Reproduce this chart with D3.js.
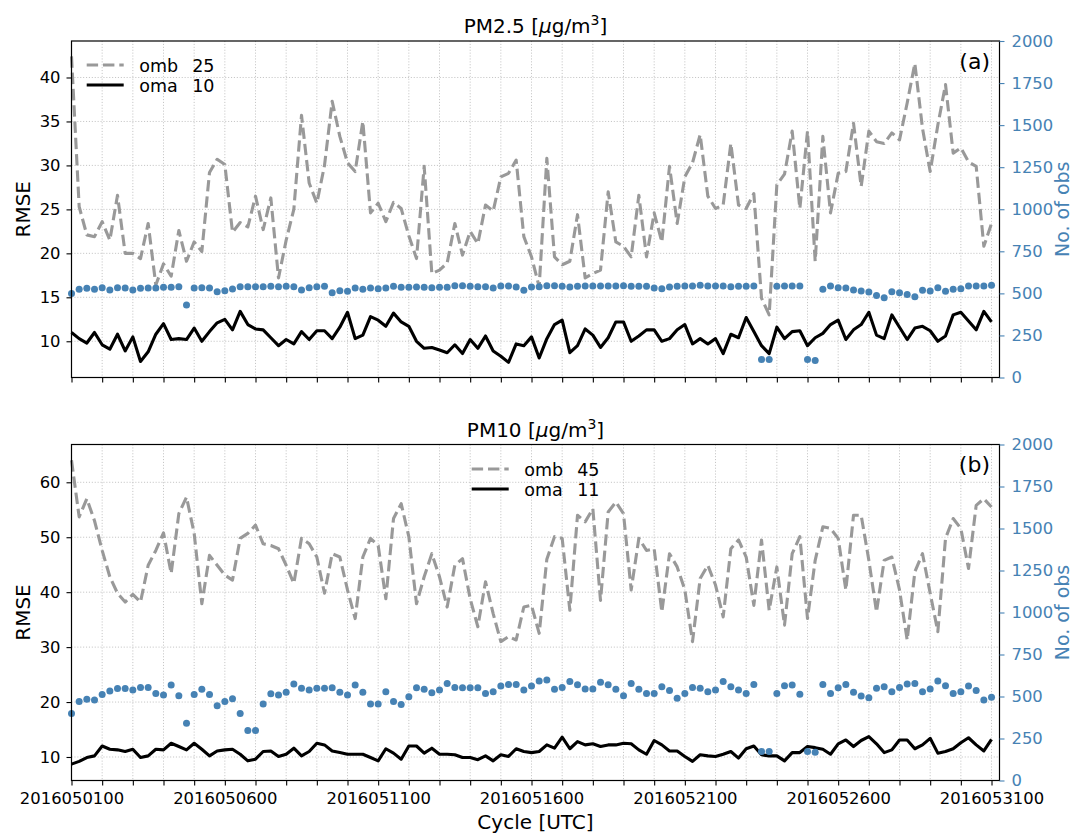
<!DOCTYPE html>
<html>
<head>
<meta charset="utf-8">
<script src="https://cdn.jsdelivr.net/npm/d3@7"></script>
<style>
  body { margin: 0; background: #fff; }
  svg { display: block; font-family: "DejaVu Sans", sans-serif; }
</style>
</head>
<body>
<script>
// cycles: 6-hourly from 2016050100 to 2016053100
var startCycle = new Date(Date.UTC(2016, 4, 1, 0));
var cycles = d3.utcHour.every(6).range(startCycle, new Date(Date.UTC(2016, 4, 31, 1)));
var tickLabels = ["2016050100", "2016050600", "2016051100", "2016051600", "2016052100", "2016052600", "2016053100"];

// PM2.5
var pm25Omb = [42.4, 25.3, 22.1, 21.9, 23.6, 21.5, 26.6, 20.0, 20.0, 19.4, 23.4, 16.4, 18.8, 17.4, 22.6, 19.1, 21.3, 20.2, 29.2, 30.7,
  30.1, 22.4, 23.5, 23.0, 26.5, 22.7, 26.3, 17.2, 21.5, 25.0, 35.7, 28.0, 25.7, 30.0, 37.3, 33.3, 30.3, 29.3, 35.0, 24.6,
  25.7, 23.6, 25.8, 25.1, 22.0, 19.4, 29.9, 17.7, 18.1, 18.9, 23.4, 19.8, 22.5, 21.1, 25.5, 24.8, 28.7, 29.1, 30.6, 21.9,
  19.6, 16.2, 30.8, 19.6, 18.7, 19.1, 24.4, 17.2, 17.7, 18.1, 27.0, 21.3, 20.8, 19.6, 26.6, 19.6, 24.6, 21.3, 29.9, 23.4,
  28.7, 30.3, 33.5, 26.5, 25.1, 25.5, 32.5, 25.5, 25.1, 26.8, 14.9, 13.0, 27.8, 29.0, 33.9, 25.1, 33.9, 19.1, 33.3, 24.6,
  29.1, 29.3, 34.8, 27.6, 33.9, 32.7, 32.5, 33.7, 32.9, 37.1, 41.6, 34.2, 29.3, 34.6, 39.2, 31.4, 32.0, 30.4, 29.9, 20.8,
  23.4];
var pm25Oma = [11.0, 10.3, 9.8, 11.0, 9.6, 9.1, 10.8, 8.9, 10.5, 7.7, 8.8, 10.8, 12.0, 10.2, 10.3, 10.2, 11.5, 10.0, 11.1, 12.1,
  12.5, 11.3, 13.4, 11.9, 11.4, 11.3, 10.4, 9.5, 10.2, 9.7, 11.1, 10.2, 11.2, 11.2, 10.3, 11.6, 13.3, 10.3, 10.7, 12.8,
  12.4, 11.7, 13.2, 12.2, 11.7, 10.0, 9.2, 9.3, 9.0, 8.7, 9.6, 8.6, 10.2, 9.2, 10.6, 8.9, 8.3, 7.6, 9.7, 9.5,
  10.5, 8.1, 10.3, 11.9, 12.4, 8.7, 9.5, 11.4, 10.7, 9.3, 10.4, 12.2, 12.2, 10.0, 10.6, 11.3, 11.3, 10.0, 10.3, 11.3,
  11.9, 9.7, 10.3, 9.7, 10.3, 8.6, 10.8, 10.4, 12.7, 11.1, 9.5, 8.6, 11.6, 10.3, 11.1, 11.2, 9.5, 10.4, 10.9, 11.9,
  12.4, 10.2, 11.3, 11.9, 13.3, 10.7, 10.3, 13.0, 11.6, 10.2, 11.5, 11.7, 11.2, 10.0, 10.6, 13.0, 13.3, 12.3, 11.3, 13.4,
  12.2];
var pm25Nobs = [500, 524, 530, 524, 534, 520, 534, 532, 520, 530, 532, 532, 536, 536, 540, 431, 532, 534, 532, 510,
  516, 526, 540, 540, 540, 540, 542, 540, 542, 540, 520, 534, 540, 542, 504, 516, 512, 532, 524, 532,
  528, 532, 542, 536, 536, 538, 536, 534, 536, 536, 546, 546, 542, 540, 540, 532, 544, 544, 538, 518,
  538, 540, 546, 546, 542, 538, 542, 544, 544, 544, 544, 544, 546, 542, 542, 542, 532, 528, 538, 542,
  544, 544, 548, 544, 544, 544, 540, 542, 542, 544, 107, 107, 542, 544, 544, 544, 107, 101, 524, 544,
  534, 532, 520, 514, 508, 488, 474, 510, 504, 494, 480, 518, 514, 534, 512, 524, 528, 544, 544, 544,
  548];

// PM10
var pm10Omb = [64.0, 53.7, 57.0, 53.0, 47.6, 42.8, 39.8, 38.2, 39.6, 38.2, 44.9, 47.6, 50.8, 43.4, 54.3, 57.3, 50.7, 37.9, 46.7, 44.9,
  43.1, 42.2, 49.8, 50.7, 52.2, 48.8, 48.5, 47.9, 44.9, 41.6, 49.8, 48.8, 46.4, 39.8, 47.0, 46.4, 40.4, 35.2, 46.4, 49.8,
  48.5, 38.8, 53.4, 56.1, 50.1, 37.9, 42.8, 47.0, 42.8, 37.3, 44.9, 46.1, 38.8, 33.7, 41.9, 36.1, 31.0, 31.9, 31.3, 37.3,
  37.6, 32.5, 46.0, 50.1, 49.8, 36.7, 54.0, 52.8, 55.2, 38.5, 54.6, 56.4, 54.3, 40.4, 49.8, 47.6, 47.9, 36.4, 47.0, 44.6,
  40.4, 31.0, 42.5, 44.9, 41.3, 35.5, 47.9, 49.5, 46.4, 37.6, 49.5, 36.7, 44.6, 34.0, 47.0, 50.1, 35.2, 45.8, 51.9, 51.6,
  49.8, 40.4, 54.0, 54.0, 45.8, 36.4, 45.8, 46.4, 40.4, 31.3, 43.7, 47.0, 39.8, 32.8, 49.8, 53.4, 51.6, 44.3, 55.8, 57.0,
  55.5];
var pm10Oma = [8.7, 9.2, 9.9, 10.2, 12.0, 11.4, 11.3, 11.0, 11.4, 9.9, 10.2, 11.4, 11.3, 12.5, 11.9, 11.3, 12.5, 11.4, 10.2, 11.1,
  11.3, 11.4, 10.5, 9.3, 9.6, 11.0, 11.1, 10.1, 10.5, 11.6, 10.2, 11.0, 12.5, 12.2, 11.1, 10.8, 10.5, 10.5, 10.5, 9.9,
  9.3, 11.5, 10.7, 9.6, 12.0, 12.0, 10.7, 11.6, 10.5, 10.5, 10.4, 9.9, 9.9, 9.5, 10.2, 9.3, 10.4, 10.1, 11.5, 11.0,
  10.8, 11.0, 12.2, 11.6, 13.6, 11.5, 12.8, 12.2, 12.4, 11.9, 12.2, 12.2, 12.5, 12.4, 11.3, 10.5, 13.0, 12.2, 11.1, 11.1,
  10.1, 9.2, 10.4, 10.2, 10.1, 10.5, 11.0, 9.8, 11.5, 12.0, 10.4, 10.2, 10.2, 9.3, 10.8, 10.8, 11.9, 11.7, 11.4, 10.5,
  12.4, 13.1, 11.9, 13.0, 13.7, 12.4, 10.8, 11.3, 13.1, 13.1, 11.5, 12.2, 13.4, 10.7, 11.0, 11.5, 12.6, 13.5, 12.2, 11.1,
  13.2];
var pm10Nobs = [399, 470, 483, 479, 512, 533, 547, 547, 539, 554, 554, 518, 509, 568, 505, 341, 512, 543, 512, 445,
  470, 487, 399, 297, 297, 455, 516, 509, 525, 574, 549, 539, 549, 549, 552, 525, 509, 568, 525, 455,
  455, 529, 470, 453, 499, 552, 543, 523, 539, 578, 554, 552, 552, 552, 518, 529, 562, 572, 572, 539,
  562, 592, 598, 543, 554, 589, 570, 545, 545, 585, 570, 543, 505, 578, 543, 518, 518, 558, 535, 489,
  518, 554, 549, 529, 539, 589, 558, 539, 518, 572, 172, 172, 518, 564, 568, 514, 172, 168, 572, 518,
  552, 572, 525, 503, 493, 549, 558, 529, 554, 574, 578, 529, 545, 592, 564, 518, 529, 562, 535, 479,
  495];

var legendMeans = [[25, 10], [45, 11]];

var width = 1075, height = 833;
var plotLeft = 71.5, plotRight = 999.5;
var grey = "#999999", blue = "#4682b4";
var lineW = 3.1, dash = "11.4,4.9";

var svg = d3.select("body").append("svg")
    .attr("width", width)
    .attr("height", height);

var xScale = d3.scaleUtc()
    .domain([startCycle, new Date(Date.UTC(2016, 4, 31, 6, 15))])
    .range([plotLeft, plotRight]);

var dayTicks = d3.utcDay.range(startCycle, new Date(Date.UTC(2016, 4, 31, 1)));
var fmt = d3.utcFormat("%Y%m%d%H");

var panels = [
  { name: "PM2.5", omb: pm25Omb, oma: pm25Oma, nobs: pm25Nobs, means: legendMeans[0],
    top: 41, bottom: 377.5, ydom: [5.88, 44.15], yticks: [10, 15, 20, 25, 30, 35, 40],
    tag: "(a)", legendX: 86.7, legendY: 65, showX: false },
  { name: "PM10", omb: pm10Omb, oma: pm10Oma, nobs: pm10Nobs, means: legendMeans[1],
    top: 444.5, bottom: 780.5, ydom: [5.72, 66.88], yticks: [10, 20, 30, 40, 50, 60],
    tag: "(b)", legendX: 471.7, legendY: 469, showX: true }
];

panels.forEach(function(p) {
  var g = svg.append("g");

  var yScale = d3.scaleLinear().domain(p.ydom).range([p.bottom, p.top]);
  var nScale = d3.scaleLinear().domain([0, 2000]).range([p.bottom, p.top]);

  // grid
  g.selectAll(".gx")
    .data(dayTicks)
    .enter().append("line")
    .attr("x1", function(d) { return xScale(d); })
    .attr("x2", function(d) { return xScale(d); })
    .attr("y1", p.top)
    .attr("y2", p.bottom)
    .attr("stroke", "#b8b8b8")
    .attr("stroke-width", 0.8)
    .attr("stroke-dasharray", "1.1,1.8");

  g.selectAll(".gy")
    .data(p.yticks)
    .enter().append("line")
    .attr("x1", plotLeft)
    .attr("x2", plotRight)
    .attr("y1", function(d) { return yScale(d); })
    .attr("y2", function(d) { return yScale(d); })
    .attr("stroke", "#b8b8b8")
    .attr("stroke-width", 0.8)
    .attr("stroke-dasharray", "1.1,1.8");

  // lines
  var line = d3.line()
      .x(function(d, i) { return xScale(cycles[i]); })
      .y(function(d) { return yScale(d); });

  g.append("path")
    .datum(p.omb)
    .attr("fill", "none")
    .attr("stroke", grey)
    .attr("stroke-width", lineW)
    .attr("stroke-dasharray", dash)
    .attr("stroke-linejoin", "round")
    .attr("d", line);

  g.append("path")
    .datum(p.oma)
    .attr("fill", "none")
    .attr("stroke", "#000")
    .attr("stroke-width", lineW)
    .attr("stroke-linejoin", "round")
    .attr("d", line);

  // no. of obs dots (twin axis)
  g.selectAll(".dot")
    .data(p.nobs)
    .enter().append("circle")
    .attr("cx", function(d, i) { return xScale(cycles[i]); })
    .attr("cy", function(d) { return nScale(d); })
    .attr("r", 3.5)
    .attr("fill", blue);

  // spines
  g.append("rect")
    .attr("x", plotLeft)
    .attr("y", p.top)
    .attr("width", plotRight - plotLeft)
    .attr("height", p.bottom - p.top)
    .attr("fill", "none")
    .attr("stroke", "#000")
    .attr("stroke-width", 1.2);

  // axes
  var xAxis = d3.axisBottom(xScale)
      .tickValues(dayTicks)
      .tickSize(5)
      .tickSizeOuter(0)
      .tickPadding(7.2)
      .tickFormat(function(d) {
        if (!p.showX) return "";
        var s = fmt(d);
        return tickLabels.indexOf(s) >= 0 ? s : "";
      });
  var gx = g.append("g")
      .attr("transform", "translate(0," + p.bottom + ")")
      .call(xAxis);

  var gy = g.append("g")
      .attr("transform", "translate(" + plotLeft + ",0)")
      .call(d3.axisLeft(yScale).tickValues(p.yticks).tickSize(5).tickSizeOuter(0).tickPadding(6));

  var gr = g.append("g")
      .attr("transform", "translate(" + plotRight + ",0)")
      .attr("color", blue)
      .call(d3.axisRight(nScale).tickValues(d3.range(0, 2001, 250)).tickFormat(d3.format("d"))
        .tickSize(5).tickSizeOuter(0).tickPadding(7));

  [gx, gy, gr].forEach(function(a) {
    a.select(".domain").remove();
    a.selectAll("text")
      .attr("font-family", "DejaVu Sans, sans-serif")
      .attr("font-size", "16.4px");
    a.selectAll("line").attr("stroke-width", 1.1);
  });
  gx.selectAll("text").attr("fill", "#000");
  gy.selectAll("text").attr("fill", "#000");

  // title
  var title = svg.append("text")
      .attr("x", (plotLeft + plotRight) / 2)
      .attr("y", p.top - 8)
      .attr("text-anchor", "middle")
      .attr("font-size", "20px");
  title.append("tspan").text(p.name + " [");
  title.append("tspan").attr("font-style", "italic").text("\u03bc");
  title.append("tspan").text("g/m");
  title.append("tspan").attr("font-size", "14px").attr("dy", -8).text("3");
  title.append("tspan").attr("dy", 8).text("]");

  // panel tag
  svg.append("text")
    .attr("x", 990)
    .attr("y", p.top + 27.5)
    .attr("text-anchor", "end")
    .attr("font-size", "22px")
    .text(p.tag);

  // axis labels
  var mid = (p.top + p.bottom) / 2;
  svg.append("text")
    .attr("transform", "translate(30," + mid + ") rotate(-90)")
    .attr("text-anchor", "middle")
    .attr("font-size", "20px")
    .text("RMSE");
  svg.append("text")
    .attr("transform", "translate(1069," + mid + ") rotate(-90)")
    .attr("text-anchor", "middle")
    .attr("font-size", "19px")
    .attr("fill", blue)
    .text("No. of obs");

  // legend
  var lg = svg.append("g").attr("transform", "translate(" + p.legendX + "," + p.legendY + ")");
  lg.append("line")
    .attr("x1", 0).attr("x2", 37).attr("y1", 0).attr("y2", 0)
    .attr("stroke", grey).attr("stroke-width", lineW).attr("stroke-dasharray", dash);
  lg.append("line")
    .attr("x1", 0).attr("x2", 37).attr("y1", 20).attr("y2", 20)
    .attr("stroke", "#000").attr("stroke-width", lineW);
  [["omb", p.means[0]], ["oma", p.means[1]]].forEach(function(e, i) {
    lg.append("text").attr("x", 52.5).attr("y", 7.3 + i * 20).attr("font-size", "17.5px").text(e[0]);
    lg.append("text").attr("x", 105.5).attr("y", 7.3 + i * 20).attr("font-size", "17.5px").text(e[1]);
  });
});

svg.append("text")
  .attr("x", (plotLeft + plotRight) / 2)
  .attr("y", 829)
  .attr("text-anchor", "middle")
  .attr("font-size", "20px")
  .text("Cycle [UTC]");
</script>
</body>
</html>
